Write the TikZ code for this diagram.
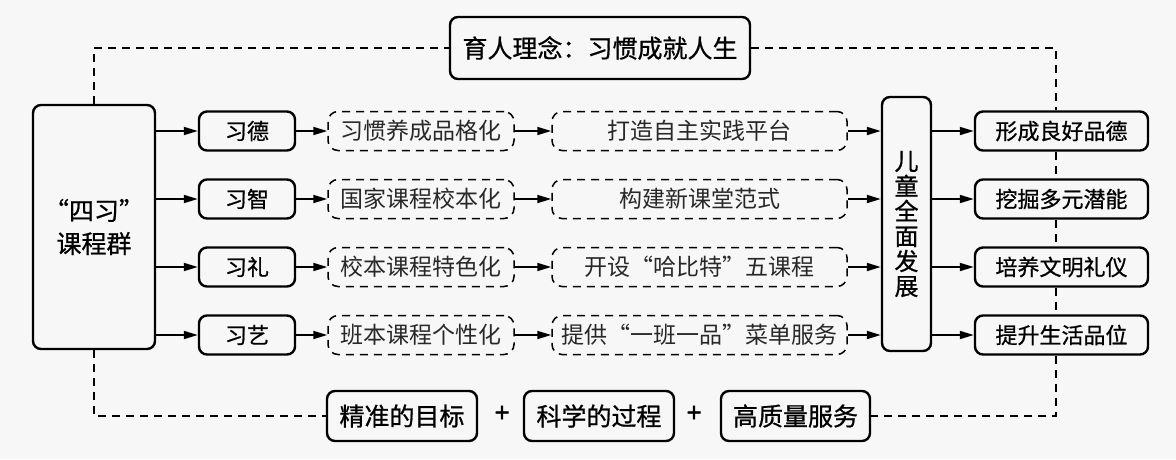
\documentclass[tikz,border=0pt]{standalone}
\usepackage{fontspec}
\setmainfont{Noto Sans CJK SC}
\newfontfamily\cjkb[FakeBold=0.8]{Noto Sans CJK SC}
\newfontfamily\cjkp[FakeBold=2]{Noto Sans CJK SC}
\newfontfamily\cjkl{Noto Sans CJK SC}
\usetikzlibrary{arrows.meta}
\definecolor{bgc}{RGB}{247,247,247}
\definecolor{txtl}{RGB}{40,40,40}
\begin{document}
\begin{tikzpicture}[x=1pt,y=-1pt,
  solidbox/.style={draw, line width=2.4pt, rounded corners=8pt, inner sep=0pt, fill=bgc,
    font=\cjkb\fontsize{22}{26}\selectfont, align=center},
  dashbox/.style={draw, dash pattern=on 8pt off 6pt, line width=1.5pt, rounded corners=10pt,
    inner sep=0pt, font=\cjkl\fontsize{23}{27}\selectfont, text=txtl},
  arr/.style={-{Triangle[length=14pt,width=8pt]}, line width=1.8pt},
  dline/.style={dash pattern=on 8pt off 6pt, line width=1.5pt}
]
\fill[bgc] (0,0) rectangle (1176,459);
\useasboundingbox (0,0) rectangle (1176,459);

\coordinate (tr) at (1056,48);
\coordinate (br) at (1056,416);

% top box
\node[solidbox, minimum width=300pt, minimum height=62pt, font=\cjkb\fontsize{25}{30}\selectfont] (top) at (600,48) {育人理念：习惯成就人生};

% left big box
\node[solidbox, minimum width=122pt, minimum height=244pt, font=\cjkb\fontsize{25}{33}\selectfont] (big) at (94,227) {“四习”\\课程群};

% column 2
\node[solidbox, minimum width=96pt, minimum height=39pt] (a1) at (247,131) {习德};
\node[solidbox, minimum width=96pt, minimum height=39pt] (a2) at (247,199) {习智};
\node[solidbox, minimum width=96pt, minimum height=39pt] (a3) at (247,267) {习礼};
\node[solidbox, minimum width=96pt, minimum height=39pt] (a4) at (247,335) {习艺};

% column 3
\node[dashbox, minimum width=186pt, minimum height=39pt] (b1) at (421,131) {习惯养成品格化};
\node[dashbox, minimum width=186pt, minimum height=39pt] (b2) at (421,199) {国家课程校本化};
\node[dashbox, minimum width=186pt, minimum height=39pt] (b3) at (421,267) {校本课程特色化};
\node[dashbox, minimum width=186pt, minimum height=39pt] (b4) at (421,335) {班本课程个性化};

% column 4
\node[dashbox, minimum width=295pt, minimum height=39pt] (c1) at (699.5,131) {打造自主实践平台};
\node[dashbox, minimum width=295pt, minimum height=39pt] (c2) at (699.5,199) {构建新课堂范式};
\node[dashbox, minimum width=295pt, minimum height=39pt] (c3) at (699.5,267) {开设“哈比特”五课程};
\node[dashbox, minimum width=295pt, minimum height=39pt] (c4) at (699.5,335) {提供“一班一品”菜单服务};

% vertical box
\node[solidbox, minimum width=49pt, minimum height=254pt, font=\cjkb\fontsize{24}{25}\selectfont] (v) at (906.5,224) {儿\\童\\全\\面\\发\\展};

% right boxes
\node[solidbox, minimum width=173pt, minimum height=39pt] (r1) at (1061.5,131) {形成良好品德};
\node[solidbox, minimum width=173pt, minimum height=39pt] (r2) at (1061.5,199) {挖掘多元潜能};
\node[solidbox, minimum width=173pt, minimum height=39pt] (r3) at (1061.5,267) {培养文明礼仪};
\node[solidbox, minimum width=173pt, minimum height=39pt] (r4) at (1061.5,335) {提升生活品位};

% bottom boxes
\node[solidbox, minimum width=150pt, minimum height=50pt, font=\cjkb\fontsize{25}{30}\selectfont] (d1) at (402,416) {精准的目标};
\node[solidbox, minimum width=150pt, minimum height=50pt, font=\cjkb\fontsize{25}{30}\selectfont] (d2) at (599,416) {科学的过程};
\node[solidbox, minimum width=149pt, minimum height=50pt, font=\cjkb\fontsize{25}{30}\selectfont] (d3) at (795.5,416) {高质量服务};
\node[font=\cjkp\fontsize{26}{30}\selectfont] (p1) at (502,414) {+};
\node[font=\cjkp\fontsize{26}{30}\selectfont] (p2) at (694,414) {+};

% dashed connectors
\draw[dline] (big.north) -- (big.north |- top.west) -- (top.west);
\draw[dline] (top.east) -- (tr) -- (r1.north -| tr);
\draw[dline] (r1.south -| tr) -- (r2.north -| tr);
\draw[dline] (r2.south -| tr) -- (r3.north -| tr);
\draw[dline] (r3.south -| tr) -- (r4.north -| tr);
\draw[dline] (r4.south -| tr) -- (br) -- (d3.east);
\draw[dline] (big.south) -- (big.south |- d1.west) -- (d1.west);

% arrows
\foreach \i in {1,2,3,4}{
  \draw[arr] (big.east |- a\i.west) -- (a\i.west);
  \draw[arr] (a\i.east) -- (b\i.west);
  \draw[arr] (b\i.east) -- (c\i.west);
  \draw[arr] (c\i.east) -- (v.west |- c\i.east);
  \draw[arr] (v.east |- r\i.west) -- (r\i.west);
}
\end{tikzpicture}
\end{document}
